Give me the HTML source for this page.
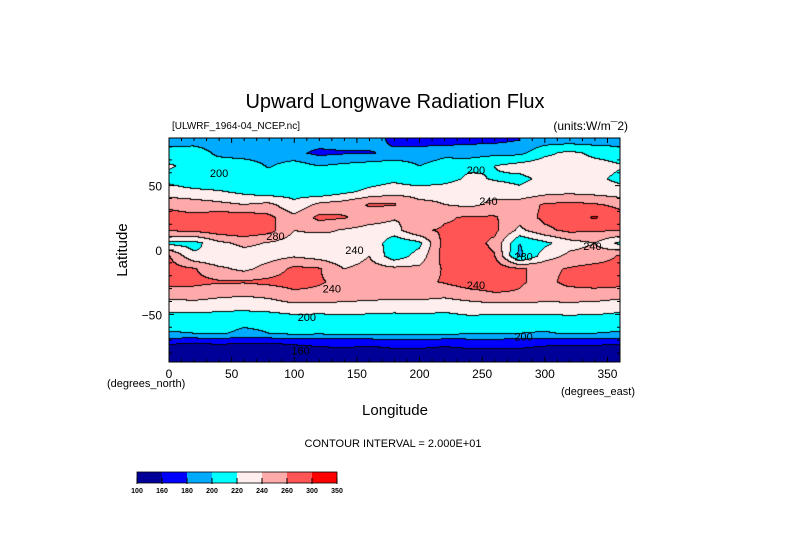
<!DOCTYPE html>
<html><head><meta charset="utf-8">
<style>
html,body{margin:0;padding:0;background:#fff;}
#wrap{position:relative;width:789px;height:558px;overflow:hidden;font-family:"Liberation Sans",sans-serif;}
canvas{position:absolute;left:169px;top:138px;}
svg{position:absolute;left:0;top:0;}
</style></head>
<body>
<div id="wrap">
<canvas id="map" width="451" height="224"></canvas>
<svg id="ov" width="789" height="558">
  <text x="395" y="108" font-size="20" text-anchor="middle" fill="#000">Upward Longwave Radiation Flux</text>
  <text x="172" y="129" font-size="10" fill="#000">[ULWRF_1964-04_NCEP.nc]</text>
  <text x="628" y="130" font-size="12" text-anchor="end" fill="#000">(units:W/m¯2)</text>
  <text transform="translate(127,250) rotate(-90)" font-size="15" text-anchor="middle" fill="#000">Latitude</text>
  <text x="395" y="415" font-size="15" text-anchor="middle" fill="#000">Longitude</text>
  <text x="107" y="387" font-size="11" fill="#000">(degrees_north)</text>
  <text x="635" y="395" font-size="11" text-anchor="end" fill="#000">(degrees_east)</text>
  <text x="393" y="447" font-size="11" text-anchor="middle" fill="#000">CONTOUR INTERVAL = 2.000E+01</text>
  <g id="axes"></g>
  <g id="labels"></g>
  <g id="cbar"></g>
</svg>
</div>
<script>
// ---- data ----
const lats = [87,85,75,65,55,45,35,25,15,5,-5,-15,-25,-35,-45,-55,-65,-72,-80,-87];
const lons = [0,20,40,60,80,100,120,140,160,180,200,220,240,260,280,300,320,340];
const r85 = [190,190,190,190,190,190,190,190,190,175,170,170,175,175,180,190,190,190];
const r75 = [210,212,195,190,190,185,175,178,178,185,190,195,190,195,195,215,225,215];
const r65 = [222,215,212,212,198,210,200,205,210,212,200,208,215,220,228,232,232,228];
const r55 = [215,205,200,208,210,215,210,205,210,215,205,210,225,218,215,225,228,225];
const r45 = [228,225,222,215,208,212,205,215,225,232,232,235,238,232,225,232,235,232];
const r35 = [255,250,245,240,245,225,245,250,262,262,245,240,235,245,250,262,265,262];
const r25 = [268,265,272,272,265,245,265,262,250,242,242,258,262,262,248,265,272,282];
const r15 = [262,265,272,275,268,240,245,238,232,232,258,262,262,265,235,255,265,262];
const r5  = [215,212,235,245,238,230,222,238,238,205,215,268,270,255,200,215,232,240];
const rm5 = [262,225,220,230,232,238,232,225,240,208,228,268,272,262,195,230,245,248];
const rm15= [268,262,245,235,248,265,262,240,248,245,245,262,272,272,262,255,262,268];
const rm25= [268,265,262,262,265,268,262,255,252,252,255,262,270,270,262,255,265,268];
const rm35= [248,250,245,242,245,255,255,252,250,248,248,245,252,258,258,252,252,252];
const rm45= [225,228,225,225,228,232,232,230,228,226,228,225,228,230,230,230,232,230];
const rm55= [212,208,210,205,205,210,208,212,212,212,212,212,215,212,212,212,212,212];
const rm65= [198,200,202,196,200,205,203,205,205,205,205,205,202,203,200,198,202,200];
const rm72= [165,162,164,162,162,164,166,166,166,168,168,166,168,168,168,166,164,164];
const rm80= [140,142,145,142,142,148,152,155,150,155,155,152,155,155,155,150,150,152];
const rm87= [145,145,145,145,145,145,145,145,145,145,145,145,145,145,145,145,145,145];
const grid = [r85,r85,r75,r65,r55,r45,r35,r25,r15,r5,rm5,rm15,rm25,rm35,rm45,rm55,rm65,rm72,rm80,rm87];
const levels = [160,180,200,220,240,260,280];
const colors = ["#000099","#0000ff","#00aaff","#00ffff","#ffeeee","#ffaaaa","#ff5555","#ff0000"];
const cbarLabels = ["100","160","180","200","220","240","260","300","350"];
const xTicks = [0,50,100,150,200,250,300,350];
const yTicks = [50,0,-50];
const contourLabels = [["200",40,60],["200",245,62],["240",255,38],["280",85,11],["240",148,0],["280",283,-5],["240",130,-30],["240",245,-27],["200",110,-52],["160",105,-78],["200",283,-67],["240",338,3]];

// ---- axes ----
const X0=169,X1=620,Y0=138,Y1=362,LAT0=87,LAT1=-87;
const xs = lon => X0 + lon/360*(X1-X0);
const ys = lat => Y0 + (LAT0-lat)/(LAT0-LAT1)*(Y1-Y0);

function valueAt(lon,lat){
  let i=0; while(i<lats.length-2 && lat<lats[i+1]) i++;
  const t=Math.min(1,Math.max(0,(lats[i]-lat)/(lats[i]-lats[i+1])));
  const fj=lon/20, j=Math.floor(fj)%18, j2=(j+1)%18, u=fj-Math.floor(fj);
  const a=grid[i][j]*(1-u)+grid[i][j2]*u, b=grid[i+1][j]*(1-u)+grid[i+1][j2]*u;
  return a*(1-t)+b*t;
}
function lvl(v){let k=0;while(k<levels.length&&v>=levels[k])k++;return k;}
function hex(c){return [parseInt(c.substr(1,2),16),parseInt(c.substr(3,2),16),parseInt(c.substr(5,2),16)];}
const rgb=colors.map(hex);
const cv=document.getElementById('map'),ctx=cv.getContext('2d');
const W=cv.width,H=cv.height,img=ctx.createImageData(W,H);
const L=new Array(W*H);
for(let y=0;y<H;y++)for(let x=0;x<W;x++){
  const lon=(x+0.5)/W*360, lat=LAT0-(y+0.5)/H*(LAT0-LAT1);
  L[y*W+x]=lvl(valueAt(lon,lat));
}
for(let y=0;y<H;y++)for(let x=0;x<W;x++){
  const k=L[y*W+x]; let c=rgb[k];
  if((x<W-1&&L[y*W+x+1]!==k)||(y<H-1&&L[(y+1)*W+x]!==k)) c=[0,0,0];
  const p=(y*W+x)*4; img.data[p]=c[0];img.data[p+1]=c[1];img.data[p+2]=c[2];img.data[p+3]=255;
}
ctx.putImageData(img,0,0);

const NS="http://www.w3.org/2000/svg";
function mk(tag,attrs,parent){const e=document.createElementNS(NS,tag);for(const k in attrs)e.setAttribute(k,attrs[k]);parent.appendChild(e);return e;}
const axes=document.getElementById('axes');
const frame=mk('rect',{x:X0,y:Y0,width:X1-X0,height:Y1-Y0,fill:'none',stroke:'#000','stroke-width':1},axes);


for(let lon=0;lon<=360;lon+=10){
  const len=lon%50===0?5:3;
  const t1=mk('line',{x1:xs(lon),x2:xs(lon),y1:Y1,y2:Y1-len,stroke:'#000'},axes);
  
  
  const t2=mk('line',{x1:xs(lon),x2:xs(lon),y1:Y0,y2:Y0+len,stroke:'#000'},axes);
  
  
}
for(let lat=-80;lat<=80;lat+=10){
  const len=lat%50===0?5:3;
  const t1=mk('line',{x1:X0,x2:X0+len,y1:ys(lat),y2:ys(lat),stroke:'#000'},axes);
  
  
  const t2=mk('line',{x1:X1,x2:X1-len,y1:ys(lat),y2:ys(lat),stroke:'#000'},axes);
  
  
}
xTicks.forEach(v=>{const t=mk('text',{x:xs(v),y:378,'font-size':12,'text-anchor':'middle'},axes);t.textContent=v;
  
  });
yTicks.forEach(v=>{const t=mk('text',{x:162,y:ys(v)+5,'font-size':12,'text-anchor':'end'},axes);t.textContent=(v<0?'\u2212'+(-v):v);
  
  });
const lg=document.getElementById('labels');
contourLabels.forEach(d=>{const t=mk('text',{x:xs(d[1]),y:ys(d[2])+4,'font-size':11,'text-anchor':'middle',fill:'#000'},lg);t.textContent=d[0];
  
  });
const cb=document.getElementById('cbar');
colors.forEach((c,i)=>{const r=mk('rect',{x:137+i*25,y:472,width:25,height:11,fill:c},cb);
  
  });
const cbf=mk('rect',{x:137,y:472,width:200,height:11,fill:'none',stroke:'#000','stroke-width':0.8},cb);


cbarLabels.forEach((s,i)=>{
  const tk=mk('line',{x1:137+i*25,x2:137+i*25,y1:478,y2:484,stroke:'#000'},cb);
  
  
  const t=mk('text',{x:137+i*25,y:493,'font-size':7,'text-anchor':'middle','font-weight':'bold'},cb);t.textContent=s;
  
  
});
</script>
</body></html>
